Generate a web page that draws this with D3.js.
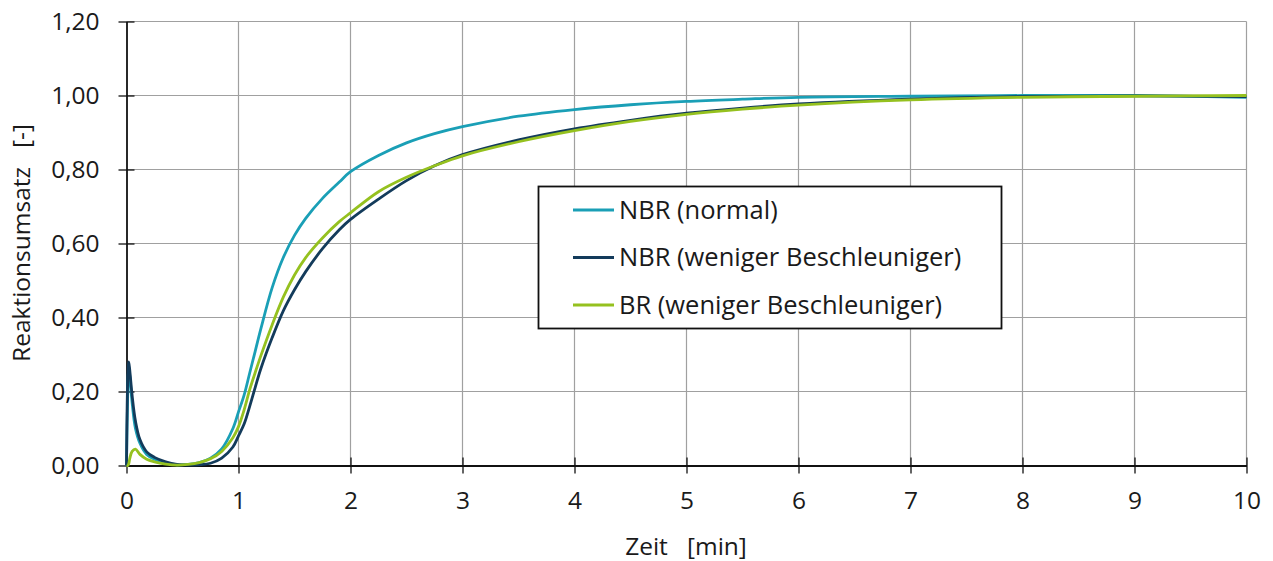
<!DOCTYPE html>
<html>
<head>
<meta charset="utf-8">
<script src="https://cdn.jsdelivr.net/npm/d3@7"></script>
<style>
  html, body { margin: 0; padding: 0; background: #fff; }
  svg { display: block; font-family: "Open Sans", "Noto Sans", sans-serif; }
</style>
</head>
<body>
<svg id="chart" width="1273" height="561"></svg>
<script>
// Time axis in minutes (shared by all series)
const zeit = [0, 0.01, 0.02, 0.03, 0.05, 0.08, 0.12, 0.18, 0.25, 0.35, 0.45, 0.55, 0.65, 0.75, 0.85, 0.95,
  1.0, 1.05, 1.1, 1.15, 1.2, 1.3, 1.4, 1.5, 1.6, 1.75, 1.9, 2.0, 2.25, 2.5, 2.75, 3.0, 3.5, 4.0, 4.5,
  5.0, 5.5, 6.0, 7.0, 8.0, 9.0, 10.0];

// Reaction conversion [-]
const nbrNormal = [0, 0.18, 0.26, 0.24, 0.17, 0.10, 0.06, 0.03, 0.017, 0.007, 0.002, 0.003, 0.008, 0.02, 0.045, 0.10,
  0.145, 0.19, 0.25, 0.31, 0.37, 0.48, 0.562, 0.622, 0.668, 0.722, 0.766, 0.794, 0.838, 0.872, 0.897, 0.916, 0.944, 0.962, 0.975,
  0.984, 0.99, 0.995, 0.998, 1.0, 1.0, 0.995];

const nbrWeniger = [0, 0.22, 0.28, 0.255, 0.19, 0.12, 0.07, 0.037, 0.022, 0.01, 0.003, 0.001, 0.002, 0.006, 0.02, 0.05,
  0.08, 0.112, 0.16, 0.212, 0.262, 0.345, 0.418, 0.475, 0.524, 0.586, 0.637, 0.665, 0.72, 0.77, 0.81, 0.84, 0.88, 0.91, 0.933,
  0.952, 0.966, 0.977, 0.99, 0.997, 0.999, 0.997];

const brWeniger = [0, 0, 0.005, 0.02, 0.038, 0.044, 0.03, 0.017, 0.01, 0.004, 0.001, 0.003, 0.008, 0.018, 0.038, 0.075,
  0.105, 0.15, 0.205, 0.252, 0.297, 0.38, 0.455, 0.515, 0.562, 0.615, 0.659, 0.683, 0.74, 0.779, 0.81, 0.837, 0.875, 0.905, 0.93,
  0.949, 0.963, 0.974, 0.988, 0.995, 0.998, 1.0];

const seriesNames = ["NBR (normal)", "NBR (weniger Beschleuniger)", "BR (weniger Beschleuniger)"];
const seriesColors = ["#1a9fb6", "#133b5b", "#95c11f"];
const seriesValues = [nbrNormal, nbrWeniger, brWeniger];

const xTicks = [0, 1, 2, 3, 4, 5, 6, 7, 8, 9, 10];
const yTicks = [0, 0.2, 0.4, 0.6, 0.8, 1.0, 1.2];

const xTitle = "Zeit   [min]";
const yTitle = "Reaktionsumsatz   [-]";

const svg = d3.select("#chart");
const plot = { left: 126.5, right: 1246.5, top: 21.5, bottom: 465.5 };

const x = d3.scaleLinear().domain([0, 10]).range([plot.left, plot.right]);
const y = d3.scaleLinear().domain([0, 1.2]).range([plot.bottom, plot.top]);

const fmtY = v => d3.format(".2f")(v).replace(".", ",");

// gridlines
const grid = svg.append("g");
grid.selectAll("line.gx").data(xTicks.filter(d => d > 0)).join("line")
  .attr("x1", d => x(d)).attr("x2", d => x(d))
  .attr("y1", plot.top).attr("y2", plot.bottom)
  .attr("stroke", "#a0a0a0").attr("stroke-width", 1.2);
grid.selectAll("line.gy").data(yTicks.filter(d => d > 0)).join("line")
  .attr("x1", plot.left).attr("x2", plot.right)
  .attr("y1", d => y(d)).attr("y2", d => y(d))
  .attr("stroke", "#a0a0a0").attr("stroke-width", 1.2);

// y axis with crossing ticks
const yAxis = svg.append("g").attr("transform", `translate(${plot.left},0)`)
  .call(d3.axisLeft(y).tickValues(yTicks).tickFormat(fmtY).tickSize(8).tickSizeOuter(0).tickPadding(20));
yAxis.select(".domain").attr("stroke", "#111").attr("stroke-width", 1.8);
yAxis.selectAll(".tick line").attr("x2", 8).attr("x1", -8).attr("stroke", "#111").attr("stroke-width", 1.3);
yAxis.selectAll(".tick text").attr("font-size", 24.5).attr("fill", "#1a1a1a")
  .attr("font-family", "'Open Sans', sans-serif").attr("x", -27);

// x axis with crossing ticks
const xAxis = svg.append("g").attr("transform", `translate(0,${plot.bottom})`)
  .call(d3.axisBottom(x).tickValues(xTicks).tickFormat(d3.format("d")).tickSize(8).tickSizeOuter(0));
xAxis.select(".domain").attr("stroke", "#111").attr("stroke-width", 2);
xAxis.selectAll(".tick line").attr("y1", -8).attr("y2", 8).attr("stroke", "#111").attr("stroke-width", 1.3);
xAxis.selectAll(".tick text").attr("font-size", 24.5).attr("fill", "#1a1a1a")
  .attr("font-family", "'Open Sans', sans-serif").attr("y", 26);

// axis titles
svg.append("text").attr("x", 686).attr("y", 555).attr("text-anchor", "middle")
  .attr("font-size", 24.5).attr("fill", "#1a1a1a").style("white-space", "pre").text(xTitle);
svg.append("text").attr("transform", "translate(30,243) rotate(-90)").attr("text-anchor", "middle")
  .attr("font-size", 24.5).attr("fill", "#1a1a1a").style("white-space", "pre").text(yTitle);

// series lines
const line = d3.line().x((d, i) => x(zeit[i])).y(d => y(d)).curve(d3.curveCatmullRom.alpha(0.5));
svg.append("g").selectAll("path").data(seriesValues).join("path")
  .attr("d", d => line(d))
  .attr("fill", "none")
  .attr("stroke", (d, i) => seriesColors[i])
  .attr("stroke-width", 2.8)
  .attr("stroke-linejoin", "round");

// legend
const legend = svg.append("g");
legend.append("rect").attr("x", 538.5).attr("y", 186.5).attr("width", 463).attr("height", 142)
  .attr("fill", "#fff").attr("stroke", "#111").attr("stroke-width", 1.8);
const items = legend.selectAll("g.item").data(seriesNames).join("g")
  .attr("transform", (d, i) => `translate(0,${210 + i * 47.5})`);
items.append("line").attr("x1", 573).attr("x2", 614).attr("y1", 0).attr("y2", 0)
  .attr("stroke", (d, i) => seriesColors[i]).attr("stroke-width", 2.8);
items.append("text").attr("x", 619).attr("y", 0).attr("dy", "0.35em")
  .attr("font-size", 25.5).attr("fill", "#1a1a1a").text(d => d);
</script>
</body>
</html>
